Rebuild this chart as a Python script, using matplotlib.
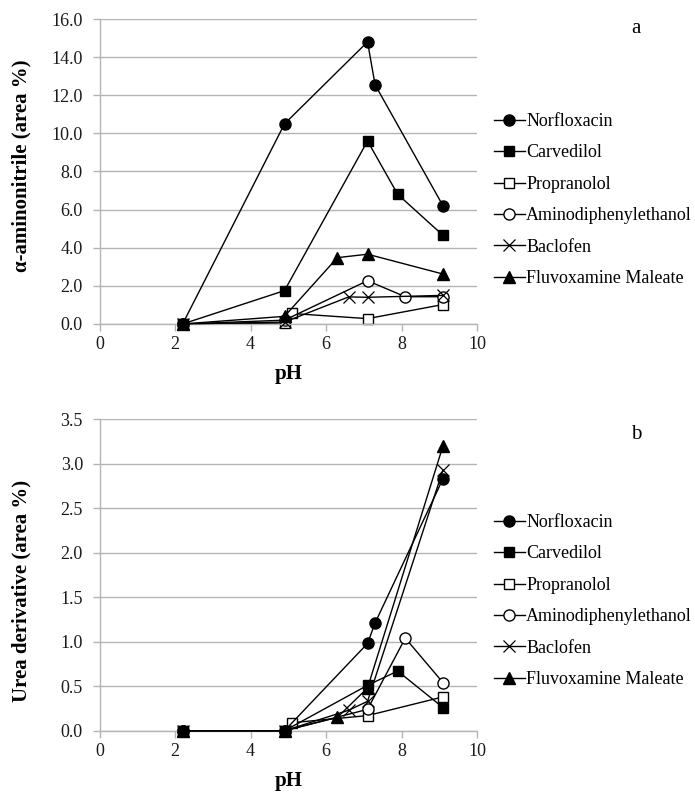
import matplotlib
matplotlib.use("Agg")
import matplotlib.pyplot as plt

plt.rcParams['font.family'] = ['Liberation Serif', 'DejaVu Serif']

names = ["Norfloxacin", "Carvedilol", "Propranolol", "Aminodiphenylethanol",
         "Baclofen", "Fluvoxamine Maleate"]

# Panel a: alpha-aminonitrile (area %)
a_norf_ph = [2.2, 4.9, 7.1, 7.3, 9.1]
a_norf = [0.0, 10.5, 14.8, 12.55, 6.2]
a_carv_ph = [2.2, 4.9, 7.1, 7.9, 9.1]
a_carv = [0.0, 1.75, 9.6, 6.8, 4.65]
a_prop_ph = [2.2, 4.9, 5.1, 7.1, 9.1]
a_prop = [0.0, 0.05, 0.55, 0.28, 1.02]
a_amin_ph = [2.2, 4.9, 7.1, 8.1, 9.1]
a_amin = [0.0, 0.2, 2.27, 1.43, 1.43]
a_bacl_ph = [2.2, 4.9, 6.6, 7.1, 9.1]
a_bacl = [0.0, 0.1, 1.42, 1.4, 1.5]
a_fluv_ph = [2.2, 4.9, 6.3, 7.1, 9.1]
a_fluv = [0.0, 0.4, 3.48, 3.66, 2.62]

# Panel b: urea derivative (area %)
b_norf_ph = [2.2, 4.9, 7.1, 7.3, 9.1]
b_norf = [0.0, 0.0, 0.98, 1.21, 2.83]
b_carv_ph = [2.2, 4.9, 7.1, 7.9, 9.1]
b_carv = [0.0, 0.0, 0.51, 0.67, 0.26]
b_prop_ph = [2.2, 4.9, 5.1, 7.1, 9.1]
b_prop = [0.0, 0.0, 0.09, 0.17, 0.38]
b_amin_ph = [2.2, 4.9, 7.1, 8.1, 9.1]
b_amin = [0.0, 0.0, 0.24, 1.04, 0.54]
b_bacl_ph = [2.2, 4.9, 6.6, 7.1, 9.1]
b_bacl = [0.0, 0.0, 0.23, 0.33, 2.93]
b_fluv_ph = [2.2, 4.9, 6.3, 7.1, 9.1]
b_fluv = [0.0, 0.0, 0.15, 0.48, 3.2]

x_ticks = [0, 2, 4, 6, 8, 10]
a_yticks = [0, 2, 4, 6, 8, 10, 12, 14, 16]
b_yticks = [0, 0.5, 1.0, 1.5, 2.0, 2.5, 3.0, 3.5]

styles = [
    dict(marker='o', markersize=8, markerfacecolor='black', zorder=3),
    dict(marker='s', markersize=7, markerfacecolor='black', zorder=4),
    dict(marker='s', markersize=7, markerfacecolor='white', zorder=2.5),
    dict(marker='o', markersize=8, markerfacecolor='white', zorder=2.5),
    dict(marker='x', markersize=8, markeredgewidth=0.9, zorder=2.6),
    dict(marker='^', markersize=8, markerfacecolor='black', zorder=2.7),
]

fig = plt.figure(figsize=(6.95, 7.96), dpi=100)
ax1 = fig.add_axes([0.1433, 0.5930, 0.5430, 0.3831])
ax2 = fig.add_axes([0.1433, 0.0820, 0.5430, 0.3916])

GRID = '#b4b4b4'

def setup(ax, data, yticks, ymax, ylabel, letter, letter_y, label_y, legend_y):
    for (xs, ys), name, st in zip(data, names, styles):
        ax.plot(xs, ys, color='black', lw=1.0, markeredgecolor='black',
                label=name, clip_on=False, **st)
    ax.set_xlim(0, 10)
    ax.set_ylim(0, ymax)
    ax.set_xticks(x_ticks)
    ax.set_yticks(yticks)
    ax.set_yticklabels(['{:.1f}'.format(v) for v in yticks])
    ax.yaxis.grid(True, color=GRID, lw=1.0)
    ax.set_axisbelow(True)
    for s in ['top', 'right']:
        ax.spines[s].set_visible(False)
    for s in ['left', 'bottom']:
        ax.spines[s].set_color(GRID)
        ax.spines[s].set_linewidth(1.0)
    ax.tick_params(axis='both', colors=GRID, labelcolor='#1a1a1a',
                   labelsize=13, length=5, width=1.0)
    ax.tick_params(axis='y', pad=7)
    ax.set_xlabel('pH', fontsize=15, fontweight='bold', labelpad=8)
    ax.set_ylabel(ylabel, fontsize=15, fontweight='bold')
    ax.yaxis.set_label_coords(-0.18, label_y)
    ax.text(1.421, letter_y, letter, transform=ax.transAxes, fontsize=15,
            ha='center', va='center')
    ax.legend(loc='upper left', bbox_to_anchor=(0.711, legend_y),
              bbox_transform=fig.transFigure, frameon=False, fontsize=13,
              handlelength=1.7, handletextpad=0.08, labelspacing=0.8,
              borderaxespad=0, borderpad=0)

setup(ax1,
      [(a_norf_ph, a_norf), (a_carv_ph, a_carv), (a_prop_ph, a_prop),
       (a_amin_ph, a_amin), (a_bacl_ph, a_bacl), (a_fluv_ph, a_fluv)],
      a_yticks, 16, 'α-aminonitrile (area %)', 'a', 0.97, 0.52, 1 - 113 / 796)
setup(ax2,
      [(b_norf_ph, b_norf), (b_carv_ph, b_carv), (b_prop_ph, b_prop),
       (b_amin_ph, b_amin), (b_bacl_ph, b_bacl), (b_fluv_ph, b_fluv)],
      b_yticks, 3.5, 'Urea derivative (area %)', 'b', 0.949, 0.45, 1 - 514 / 796)

fig.savefig('out.png', dpi=100)
